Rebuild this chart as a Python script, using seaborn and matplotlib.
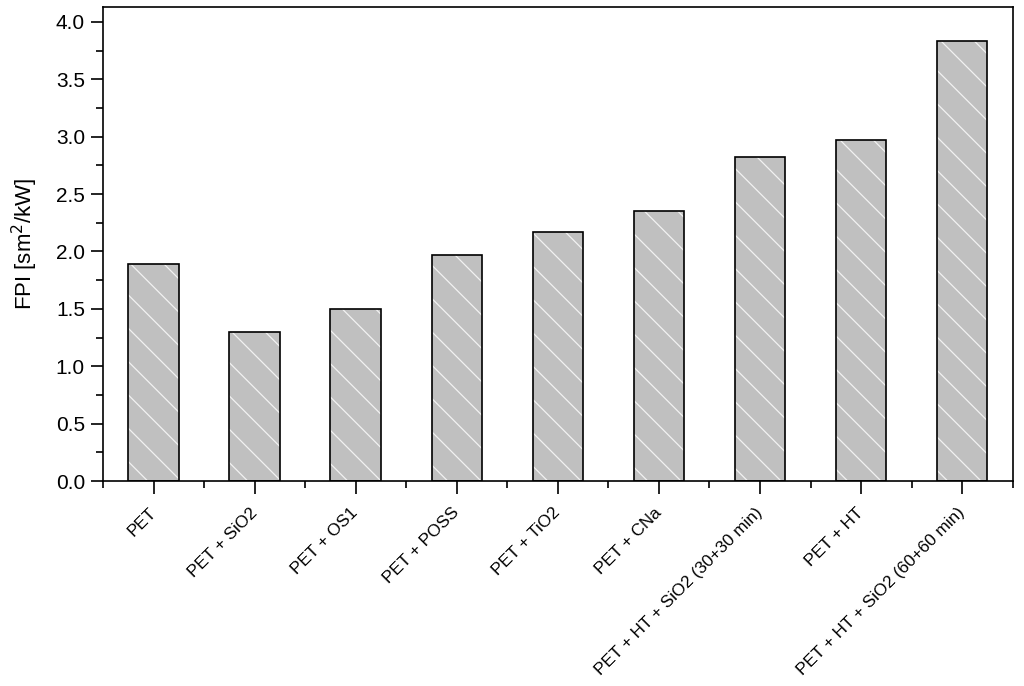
import seaborn as sea
import pandas as pd
import matplotlib.pyplot as plt
from matplotlib.ticker import MultipleLocator

# values
samples = ["PET", "PET + SiO2", "PET + OS1", "PET + POSS", "PET + TiO2", "PET + CNa",
           "PET + HT + SiO2 (30+30 min)", "PET + HT", "PET + HT + SiO2 (60+60 min)"]
fpi = [1.89, 1.30, 1.50, 1.97, 2.17, 2.35, 2.82, 2.97, 3.83]


def main():
    sea.set_style("ticks")
    plt.rcParams['font.family'] = ['Liberation Sans', 'DejaVu Sans']
    plt.rcParams['hatch.linewidth'] = 0.9
    plt.rcParams['text.color'] = 'black'
    plt.rcParams['axes.labelcolor'] = 'black'
    plt.rcParams['xtick.color'] = 'black'
    plt.rcParams['ytick.color'] = 'black'

    df = pd.DataFrame({"sample": samples, "fpi": fpi})

    fig = plt.figure(figsize=(10.24, 6.86), dpi=100)
    ax = fig.add_axes([0.1006, 0.2988, 0.8884, 0.691])

    # fill + white hatch first, then black outline on top
    sea.barplot(data=df, x="sample", y="fpi", color="#c0c0c0", width=0.5,
                edgecolor="#f2f2f2", linewidth=0, hatch="\\", saturation=1, ax=ax)
    sea.barplot(data=df, x="sample", y="fpi", width=0.5, fill=False,
                edgecolor="black", linewidth=1.2, ax=ax)

    ax.set_xlim(-0.5, len(samples) - 0.5)
    ax.set_ylim(0, 4.13)
    ax.yaxis.set_major_locator(MultipleLocator(0.5))
    ax.yaxis.set_minor_locator(MultipleLocator(0.25))
    ax.xaxis.set_minor_locator(MultipleLocator(1.0, offset=0.5))

    for side in ["top", "right", "left", "bottom"]:
        ax.spines[side].set_visible(True)
        ax.spines[side].set_linewidth(1.2)
        ax.spines[side].set_color("black")

    ax.tick_params(axis="y", which="major", length=9, width=1.2, labelsize=15, pad=4)
    ax.tick_params(axis="y", which="minor", length=5, width=1.2)
    ax.tick_params(axis="x", which="major", length=9, width=1.2, labelsize=12.3, pad=12)
    ax.tick_params(axis="x", which="minor", length=5, width=1.2)
    ax.set_yticks([0, 0.5, 1.0, 1.5, 2.0, 2.5, 3.0, 3.5, 4.0])
    ax.set_yticklabels([f"{v:.1f}" for v in ax.get_yticks()])
    plt.setp(ax.get_xticklabels(), rotation=45, ha="right", va="center",
             rotation_mode="anchor")

    ax.set_xlabel("")
    ax.set_ylabel("FPI [sm$^2$/kW]", fontsize=16, labelpad=11)

    fig.savefig("out.png", dpi=100)


if __name__ == '__main__':
    main()
